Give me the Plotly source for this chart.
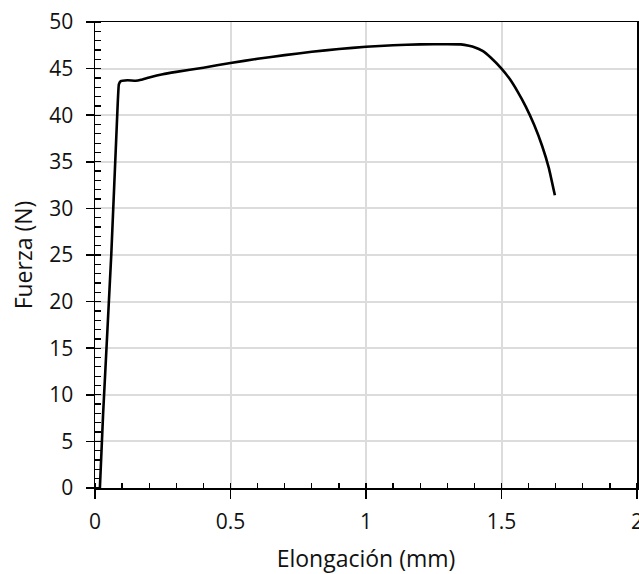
import plotly.graph_objects as go

elongacion = [0.018, 0.03, 0.06, 0.082, 0.088, 0.095, 0.12, 0.15, 0.17, 0.2, 0.25, 0.3, 0.4, 0.5,
              0.6, 0.7, 0.8, 0.9, 1.0, 1.1, 1.2, 1.3, 1.35, 1.38, 1.4, 1.43, 1.46, 1.5, 1.53,
              1.56, 1.59, 1.62, 1.65, 1.675, 1.697]
fuerza = [0.0, 8.0, 25.0, 40.0, 43.3, 43.65, 43.75, 43.7, 43.8, 44.05, 44.4, 44.65, 45.1, 45.6,
          46.05, 46.45, 46.8, 47.1, 47.35, 47.5, 47.6, 47.62, 47.6, 47.45, 47.3, 46.9, 46.2, 45.0, 43.9,
          42.5, 40.9, 39.0, 36.7, 34.3, 31.4]

font = "'Open Sans', sans-serif"

fig = go.Figure(go.Scatter(x=elongacion, y=fuerza, mode="lines",
                           line=dict(color="black", width=2.6, shape="spline", smoothing=0.3),
                           showlegend=False, hoverinfo="skip"))

fig.update_layout(
    width=639, height=574,
    margin=dict(l=95, r=2, t=22, b=86),
    paper_bgcolor="white", plot_bgcolor="white",
    font=dict(family=font, size=21, color="#111"),
)
fig.update_xaxes(
    range=[0, 2], tickvals=[0, 0.5, 1, 1.5, 2], ticktext=["0", "0.5", "1", "1.5", "2"],
    showgrid=True, gridcolor="#dcdcdc", gridwidth=2,
    showline=True, linecolor="black", linewidth=1.5, mirror=True,
    ticks="outside", ticklen=9, tickwidth=1.5, tickcolor="black",
    ticklabelstandoff=5,
    minor=dict(dtick=0.1, ticks="inside", ticklen=5, tickwidth=1.3, tickcolor="black", showgrid=False),
    title=dict(text="Elongación (mm)", standoff=22, font=dict(size=23)),
    zeroline=False, fixedrange=True, automargin=False, ticklabeloverflow="allow",
)
fig.update_yaxes(
    range=[0, 50], dtick=5,
    showgrid=True, gridcolor="#dcdcdc", gridwidth=2,
    showline=True, linecolor="black", linewidth=1.5, mirror=True,
    ticks="outside", ticklen=8, tickwidth=1.5, tickcolor="black",
    ticklabelstandoff=8,
    minor=dict(dtick=1, ticks="inside", ticklen=6, tickwidth=1.3, tickcolor="black", showgrid=False),
    title=dict(text="Fuerza (N)", standoff=10, font=dict(size=23)),
    zeroline=False, fixedrange=True, automargin=False,
)

fig.write_html("out.html", config={"displayModeBar": False, "staticPlot": True},
               post_script="document.body.style.margin='0';document.body.style.overflow='hidden';")
